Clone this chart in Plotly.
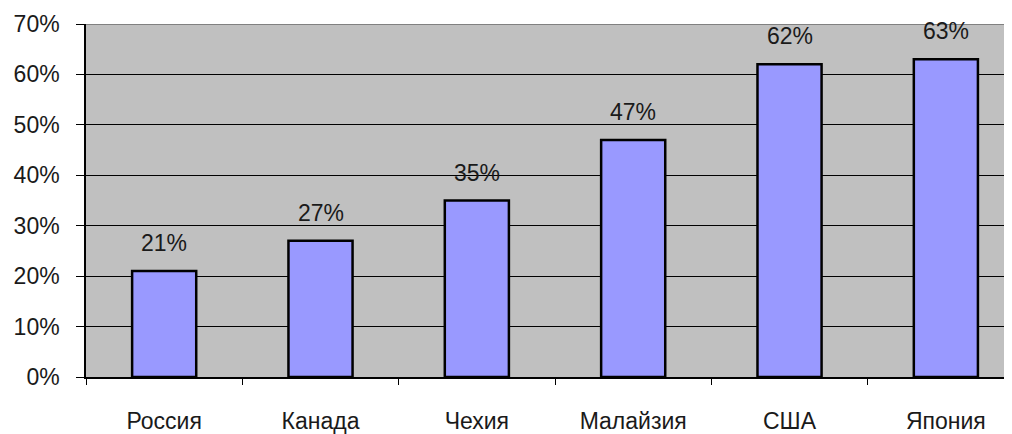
import plotly.graph_objects as go

countries = ["Россия", "Канада", "Чехия", "Малайзия", "США", "Япония"]
values = [21, 27, 35, 47, 62, 63]
y_ticks = [0, 10, 20, 30, 40, 50, 60, 70]
y_tick_labels = [f"{v}%" for v in y_ticks]

FONT = "Liberation Sans, Arial, sans-serif"
TXT = "#1a1a1a"
FS = 23

fig = go.Figure()
fig.add_trace(go.Bar(
    x=countries, y=values, width=0.41,
    marker=dict(color="#9999FF", line=dict(color="black", width=2.5)),
    hoverinfo="skip",
))

for c, v in zip(countries, values):
    fig.add_annotation(x=c, y=v, text=f"{v}%", showarrow=False,
                       yanchor="middle", yshift=28,
                       font=dict(family=FONT, size=FS, color=TXT))

# top border of the plot area
fig.add_shape(type="line", xref="paper", yref="y", x0=0, x1=1, y0=70, y1=70,
              line=dict(color="#808080", width=2))

# page body has an 8px margin, so the figure is shrunk to fit the window
fig.update_layout(
    width=1004, height=426,
    margin=dict(l=78, r=0, t=16, b=57),
    paper_bgcolor="white", plot_bgcolor="#C0C0C0",
    showlegend=False,
    font=dict(family=FONT, size=FS, color=TXT),
)
fig.update_xaxes(
    type="category", range=[-0.5, 5.423], automargin=False,
    tickson="boundaries", ticks="outside", ticklen=6, tickcolor="black", tickwidth=1,
    showline=True, linecolor="black", linewidth=1.5,
    showgrid=False, ticklabelstandoff=23,
    tickfont=dict(family=FONT, size=FS, color=TXT),
)
fig.update_yaxes(
    range=[0, 70], tickvals=y_ticks, ticktext=y_tick_labels, automargin=False,
    ticks="outside", ticklen=8, tickcolor="black", tickwidth=1,
    showline=True, linecolor="black", linewidth=1.5,
    showgrid=True, gridcolor="black", gridwidth=1, zeroline=False,
    ticklabelstandoff=12,
    tickfont=dict(family=FONT, size=FS, color=TXT),
)

fig.write_html("out.html")
